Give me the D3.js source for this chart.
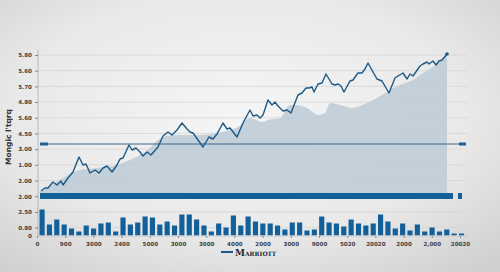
<!DOCTYPE html>
<html>
<head>
<meta charset="utf-8">
<script src="https://cdn.jsdelivr.net/npm/d3@7"></script>
<style>
  html, body { margin: 0; padding: 0; }
  svg { display: block; }
</style>
</head>
<body>
<div id="chart"></div>
<script>
// left axis labels (one per gridline, top to bottom read upward)
const yLabels = ["0.80", "2.50", "2.00", "2.00", "1.00", "3.00", "4.50", "5.60", "4.80", "5.70", "5.60", "5.80"];
const xLabels = ["0", "900", "3000", "2400", "5000", "3000", "3000", "4000", "2000", "3000", "9000", "5020", "20020", "2000", "2,000", "20020"];

// price line: day index and value
const lineT = [1,5,8,13,17,21,23,28,33,39,43,46,50,55,59,63,67,72,77,80,83,89,92,96,100,103,107,111,118,123,128,132,137,142,147,150,153,163,169,173,177,183,187,190,197,203,210,213,217,220,223,228,232,235,238,243,247,251,258,262,266,269,272,274,278,282,286,292,295,298,301,304,310,313,318,322,325,328,333,337,342,349,355,358,363,367,370,373,380,383,387,389,393,396,399,402,407];
const lineV = [2,5,5,11,8,12,8,15,21,36,28,29,20,23,20,25,27,21,28,34,35,48,43,45,41,37,41,38,46,57,61,58,63,70,64,61,60,46,56,54,59,70,64,65,56,70,83,77,78,75,78,93,88,91,87,82,83,80,98,100,105,105,106,101,109,110,119,109,108,109,107,101,112,113,120,120,124,130,121,114,112,100,115,117,120,114,119,117,127,129,131,129,132,128,132,133,139];

// shaded trend area
const areaT = [-2,2,15,23,40,57,77,90,105,123,137,160,177,190,198,210,223,228,240,250,255,267,278,285,290,300,312,327,337,350,360,373,383,393,407];
const areaV = [0,2,10,15,23,25,28,33,41,56,58,58,60,63,66,75,71,73,75,88,88,85,78,80,90,88,85,90,95,103,108,113,120,126,138];

// volume bars
const volumes = [26,11,16,11,7,4,10,7,12,13,4,18,11,13,19,18,11,14,10,21,21,16,10,4,12,8,20,10,19,14,12,12,10,6,13,13,5,6,19,13,12,9,16,12,10,12,21,14,7,12,5,11,4,8,4,6,2,2];

const refLevel = 49;
const seriesName = "Marriott";
const axisTitle = "Mongic l'tqrq";

const W = 500, H = 272;
const svg = d3.select("#chart").append("svg").attr("width", W).attr("height", H);

const defs = svg.append("defs");
const bg = defs.append("radialGradient").attr("id", "bg").attr("cx", "48%").attr("cy", "42%").attr("r", "75%");
bg.append("stop").attr("offset", "0%").attr("stop-color", "#f5f5f5");
bg.append("stop").attr("offset", "60%").attr("stop-color", "#e9e9e9");
bg.append("stop").attr("offset", "100%").attr("stop-color", "#cfcfcf");
svg.append("rect").attr("width", W).attr("height", H).attr("fill", "url(#bg)");

// scales
const yGrid = d3.scaleLinear().domain([0, 11]).range([227.6, 55]);
const xAxisScale = d3.scaleLinear().domain([0, 15]).range([37, 460]);
const xLine = d3.scaleLinear().domain([0, 407]).range([40, 447]);
const priceY = d3.scaleLinear().domain([0, 138]).range([193, 55]);
const xBar = d3.scaleBand().domain(d3.range(volumes.length)).range([38.4, 465.2]).paddingInner(0.3).paddingOuter(0.15);
const yBar = d3.scaleLinear().domain([0, 30]).range([235.5, 205.5]);

// gridlines
svg.append("g").selectAll("line").data(d3.range(12)).join("line")
  .attr("x1", 38).attr("x2", 468)
  .attr("y1", d => yGrid(d)).attr("y2", d => yGrid(d))
  .attr("stroke", "#d6d6d6").attr("stroke-width", 0.8);

// shaded area
const areaData = areaT.map((t, i) => [t, areaV[i]]);
svg.append("path").datum(areaData)
  .attr("d", d3.area().x(d => xLine(d[0])).y0(priceY(0)).y1(d => priceY(d[1])).curve(d3.curveMonotoneX))
  .attr("fill", "#bfccd7").attr("opacity", 0.9);

// reference line with end markers
svg.append("line").attr("x1", xLine(2)).attr("x2", xLine(420))
  .attr("y1", priceY(refLevel)).attr("y2", priceY(refLevel))
  .attr("stroke", "#3d6788").attr("stroke-width", 1);
svg.append("rect").attr("x", xLine(0)).attr("y", priceY(refLevel) - 1.5).attr("width", 8).attr("height", 3).attr("fill", "#1d5f95");
svg.append("rect").attr("x", xLine(419)).attr("y", priceY(refLevel) - 1.5).attr("width", 7).attr("height", 3).attr("fill", "#1d5f95");

// base band
svg.append("rect").attr("x", xLine(0)).attr("y", priceY(0)).attr("width", xLine(413) - xLine(0))
  .attr("height", priceY(-6) - priceY(0)).attr("fill", "#135f97");
svg.append("rect").attr("x", xLine(418)).attr("y", priceY(0)).attr("width", 4)
  .attr("height", priceY(-6) - priceY(0)).attr("fill", "#135f97");

// price line
const lineData = lineT.map((t, i) => [t, lineV[i]]);
svg.append("path").datum(lineData)
  .attr("d", d3.line().x(d => xLine(d[0])).y(d => priceY(d[1])))
  .attr("fill", "none").attr("stroke", "#1b5a88").attr("stroke-width", 1.4)
  .attr("stroke-linejoin", "round");
svg.append("circle").attr("cx", xLine(407)).attr("cy", priceY(139)).attr("r", 1.8).attr("fill", "#1b5a88");

// volume bars
svg.append("g").selectAll("rect").data(volumes).join("rect")
  .attr("x", (d, i) => xBar(i)).attr("width", xBar.bandwidth())
  .attr("y", d => yBar(d)).attr("height", d => yBar(0) - yBar(d))
  .attr("fill", "#12609a");

// axes
svg.append("line").attr("x1", 38).attr("x2", 38).attr("y1", 50).attr("y2", 236).attr("stroke", "#b8b8b8");
svg.append("line").attr("x1", 38).attr("x2", 468).attr("y1", 236).attr("y2", 236).attr("stroke", "#c8c8c8");

const yAxis = svg.append("g").attr("transform", "translate(38,0)")
  .call(d3.axisLeft(yGrid).tickValues(d3.range(12)).tickFormat(i => yLabels[i]).tickSize(3).tickPadding(3));
const barAxis = svg.append("g").attr("transform", "translate(38,0)")
  .call(d3.axisLeft(yBar).tickValues([0]).tickFormat(d => "0").tickSize(0).tickPadding(6));
const xAxis = svg.append("g").attr("transform", "translate(0,236)")
  .call(d3.axisBottom(xAxisScale).tickValues(d3.range(16)).tickFormat(i => xLabels[i]).tickSize(2).tickPadding(4));

[yAxis, barAxis, xAxis].forEach(g => {
  g.select(".domain").remove();
  g.selectAll(".tick line").attr("stroke", "#888");
  g.selectAll("text").attr("fill", "#444").attr("font-family", "DejaVu Sans, sans-serif")
    .attr("font-size", 5.6).attr("font-weight", "bold");
});

// axis title
svg.append("text").attr("transform", "translate(11,137) rotate(-90)")
  .attr("text-anchor", "middle").attr("font-family", "DejaVu Sans, sans-serif")
  .attr("font-size", 7.5).attr("font-weight", "bold").attr("fill", "#333")
  .text(axisTitle);

// legend
svg.append("line").attr("x1", 221).attr("x2", 233).attr("y1", 252).attr("y2", 252)
  .attr("stroke", "#1b5a88").attr("stroke-width", 2);
svg.append("text").attr("x", 235).attr("y", 255.5)
  .attr("font-family", "DejaVu Serif, serif").attr("font-size", 9).attr("font-weight", "bold")
  .attr("font-variant", "small-caps").attr("fill", "#1e2a36")
  .text(seriesName);
</script>
</body>
</html>
